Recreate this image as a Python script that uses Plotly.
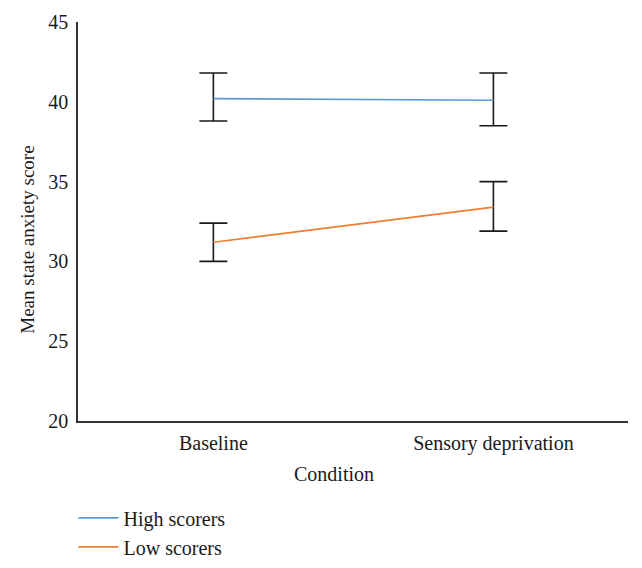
import plotly.graph_objects as go

conditions = ["Baseline", "Sensory deprivation"]
high_mean = [40.2, 40.1]
high_upper = [41.8, 41.8]
high_lower = [38.8, 38.5]
low_mean = [31.2, 33.4]
low_upper = [32.4, 35.0]
low_lower = [30.0, 31.9]

y_ticks = [20, 25, 30, 35, 40, 45]

FONT = "Liberation Serif, Times New Roman, serif"

def err_plus(m, u):
    return [a - b for a, b in zip(u, m)]

def err_minus(m, l):
    return [b - a for a, b in zip(l, m)]

fig = go.Figure()
fig.add_trace(go.Scatter(
    x=conditions, y=high_mean, mode="lines", name="High scorers",
    line=dict(color="#5B9BD5", width=1.6),
    error_y=dict(type="data", symmetric=False,
                 array=err_plus(high_mean, high_upper),
                 arrayminus=err_minus(high_mean, high_lower),
                 color="#1a1a1a", thickness=1.6, width=14),
))
fig.add_trace(go.Scatter(
    x=conditions, y=low_mean, mode="lines", name="Low scorers",
    line=dict(color="#ED7D31", width=1.6),
    error_y=dict(type="data", symmetric=False,
                 array=err_plus(low_mean, low_upper),
                 arrayminus=err_minus(low_mean, low_lower),
                 color="#1a1a1a", thickness=1.6, width=14),
))

PLOT_L, PLOT_W, PLOT_T, PLOT_H = 69.5, 550.5, 14, 398.7

fig.update_layout(
    width=634, height=560,
    margin=dict(l=PLOT_L, r=634 - PLOT_L - PLOT_W, t=PLOT_T, b=560 - PLOT_T - PLOT_H,
                autoexpand=False),
    paper_bgcolor="white", plot_bgcolor="white",
    font=dict(family=FONT, size=20, color="#1a1a1a"),
    showlegend=True,
    legend=dict(x=-0.0082, y=-0.194, xanchor="left", yanchor="top",
                orientation="v", itemwidth=40,
                font=dict(family=FONT, size=20, color="#1a1a1a"),
                bgcolor="rgba(0,0,0,0)"),
    annotations=[
        dict(text="Condition", xref="paper", yref="paper", x=(333.3 - 77.5) / 550.5, y=-0.132,
             xanchor="center", yanchor="middle", showarrow=False,
             font=dict(family=FONT, size=20, color="#1a1a1a")),
        dict(text="Mean state anxiety score", xref="paper", yref="paper",
             x=(27 - 77.5) / 550.5, y=(420.7 - 240) / 398.7, textangle=-90,
             xanchor="center", yanchor="middle", showarrow=False,
             font=dict(family=FONT, size=19, color="#1a1a1a")),
    ],
)
fig.update_xaxes(
    type="category", range=[-0.4834, 1.4806],
    showline=True, linecolor="#333333", linewidth=1.5,
    showgrid=False, zeroline=False, ticks="", ticklabelstandoff=3,
    tickfont=dict(family=FONT, size=20, color="#1a1a1a"),
)
fig.update_yaxes(
    range=[20, 45], tickvals=y_ticks,
    showline=True, linecolor="#333333", linewidth=1.5,
    showgrid=False, zeroline=False, ticks="", ticklabelstandoff=4,
    tickfont=dict(family=FONT, size=20, color="#1a1a1a"),
)

fig.write_html("out.html")
